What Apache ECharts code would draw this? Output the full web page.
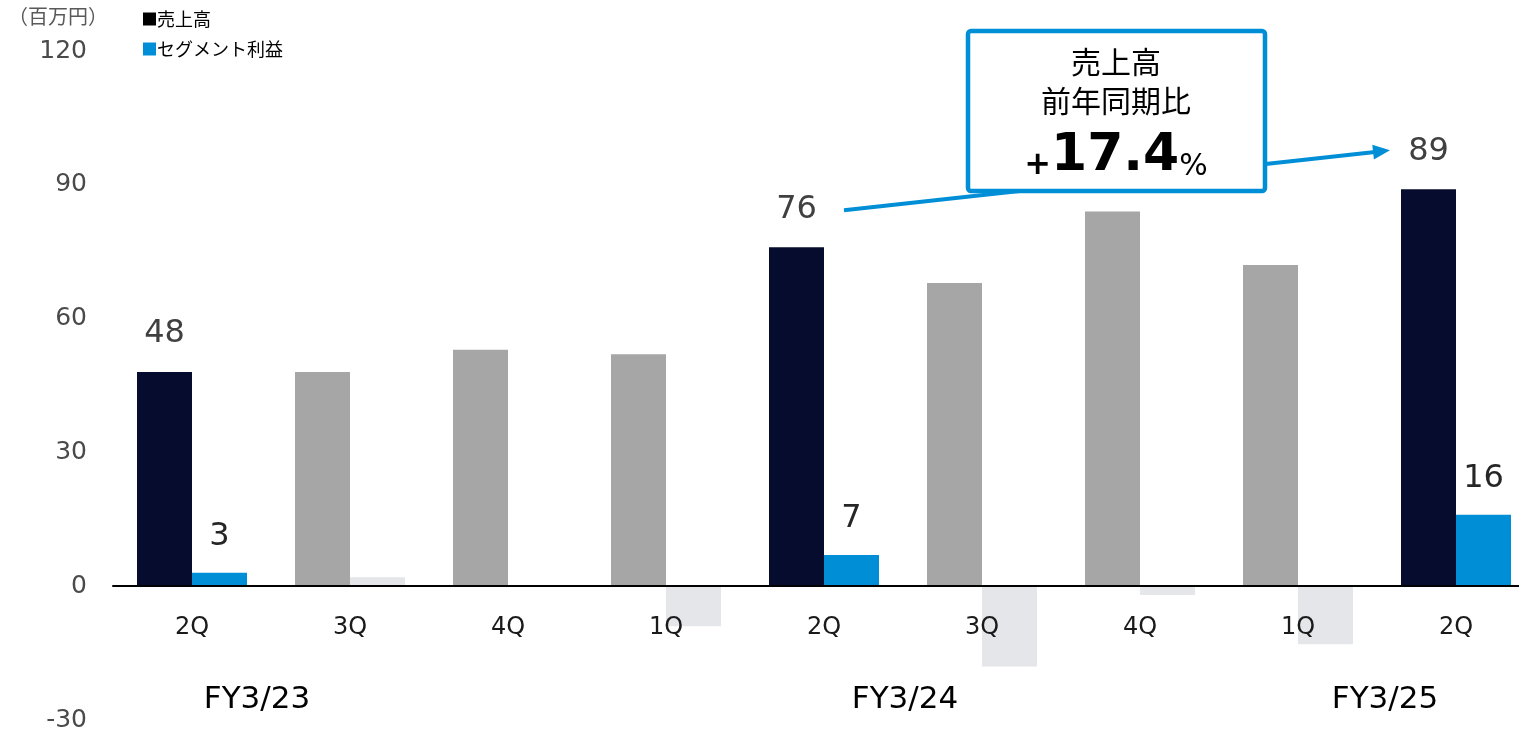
<!DOCTYPE html>
<html>
<head>
<meta charset="utf-8">
<script src="https://cdn.jsdelivr.net/npm/echarts@6/dist/echarts.min.js"></script>
<style>
html,body{margin:0;padding:0;background:#fff;}
#c{width:1519px;height:735px;}
</style>
</head>
<body>
<div id="c"></div>
<script>
const categories = ['2Q','3Q','4Q','1Q','2Q','3Q','4Q','1Q','2Q'];
const sales = [48,48,53,52,76,68,84,72,89];
const profit = [3,2,0,-9,7,-18,-2,-13,16];
const highlight = [0,4,8];
const fyLabels = ['FY3/23','FY3/24','FY3/25'];
const yMin = -30, yMax = 120, yInterval = 30;

const NUM = '"DejaVu Sans", "Noto Sans CJK JP", sans-serif';
const JP = '"Noto Sans CJK JP", sans-serif';
const NAVY = '#060c2e', GRAY = '#a6a6a6', BLUE = '#008fd6', LIGHT = '#e5e6ea';

const salesData = sales.map((v,i)=>{
  const h = highlight.includes(i);
  return {value:v, itemStyle:{color: h?NAVY:GRAY}, label:{show:h}};
});
const profitData = profit.map((v,i)=>{
  const h = highlight.includes(i);
  return {value:v, itemStyle:{color: h?BLUE:LIGHT}, label:{show:h}};
});

const chart = echarts.init(document.getElementById('c'));
const option = {
  animation:false,
  grid:{left:113, right:-16, top:51, bottom:15, containLabel:false, outerBoundsMode:'none'},
  legend:{
    orient:'vertical', left:138, top:5, itemWidth:13, itemHeight:13, itemGap:12,
    icon:'rect', selectedMode:false,
    textStyle:{fontFamily:JP, fontSize:18, color:'#000', padding:[0,0,0,-4]},
    data:['売上高','セグメント利益']
  },
  xAxis:{
    type:'category', data:categories, z:10,
    axisTick:{show:false},
    axisLine:{onZero:false, lineStyle:{color:'#000', width:2}},
    axisLabel:{fontFamily:NUM, fontSize:24, color:'#1a1a1a', margin:30}
  },
  yAxis:{
    type:'value', min:yMin, max:yMax, interval:yInterval,
    splitLine:{show:false}, axisLine:{show:false}, axisTick:{show:false},
    axisLabel:{fontFamily:NUM, fontSize:25, color:'#4a4a4a', margin:26}
  },
  series:[
    {name:'売上高', type:'bar', data:salesData, barWidth:55, barGap:'0%',
     itemStyle:{color:'#000'},
     label:{position:'top', distance:22, fontFamily:NUM, fontSize:32, color:'#404040'}},
    {name:'セグメント利益', type:'bar', data:profitData, barWidth:55, barGap:'0%',
     itemStyle:{color:BLUE},
     label:{position:'top', distance:20, fontFamily:NUM, fontSize:32, color:'#262626'}}
  ]
};
chart.setOption(option);

// move x axis (line + labels) to the zero line
const zeroY = chart.convertToPixel({yAxisIndex:0}, 0);
const bottomY = chart.convertToPixel({yAxisIndex:0}, yMin);
chart.setOption({xAxis:{offset: zeroY - bottomY}});

// annotations
const p0 = chart.convertToPixel({gridIndex:0}, [4, sales[4]]);
const p1 = chart.convertToPixel({gridIndex:0}, [8, sales[8]]);
const start = [p0[0]+20, p0[1]-37];
const tip = [p1[0]-66, p1[1]-39];
const dx = tip[0]-start[0], dy = tip[1]-start[1];
const L = Math.sqrt(dx*dx+dy*dy), ux = dx/L, uy = dy/L;
const ah = 17, aw = 7.5;
const bx = tip[0]-ah*ux, by = tip[1]-ah*uy;

chart.setOption({
  graphic:[
    {type:'text', left:8, top:6, style:{text:'（百万円）', font:'20px '+JP, fill:'#595959'}},
    {type:'line', z:50, shape:{x1:start[0], y1:start[1], x2:bx+ux*2, y2:by+uy*2},
     style:{stroke:BLUE, lineWidth:4}},
    {type:'polygon', z:50, shape:{points:[[tip[0],tip[1]],[bx-aw*uy, by+aw*ux],[bx+aw*uy, by-aw*ux]]},
     style:{fill:BLUE}},
    {type:'rect', z:60, shape:{x:968, y:31, width:297, height:160, r:3},
     style:{fill:'#fff', stroke:BLUE, lineWidth:4.5}},
    {type:'text', z:61, x:1116, y:62, style:{text:'売上高', font:'30px '+JP, fill:'#000', align:'center', verticalAlign:'middle'}},
    {type:'text', z:61, x:1116, y:101, style:{text:'前年同期比', font:'30px '+JP, fill:'#000', align:'center', verticalAlign:'middle'}},
    {type:'text', z:61, x:1116, y:156, style:{
      text:'{a|+}{b|17.4}{c|%}', align:'center', verticalAlign:'middle',
      rich:{
        a:{fontFamily:NUM, fontWeight:'bold', fontSize:32, fill:'#000', color:'#000', verticalAlign:'bottom'},
        b:{fontFamily:NUM, fontWeight:'bold', fontSize:52, fill:'#000', color:'#000', verticalAlign:'bottom'},
        c:{fontFamily:NUM, fontSize:30, fill:'#000', color:'#000', verticalAlign:'bottom'}
      }}},
    {type:'text', x:257, y:700, style:{text:fyLabels[0], font:'31px '+NUM, fill:'#000', align:'center', verticalAlign:'middle'}},
    {type:'text', x:905, y:700, style:{text:fyLabels[1], font:'31px '+NUM, fill:'#000', align:'center', verticalAlign:'middle'}},
    {type:'text', x:1385, y:700, style:{text:fyLabels[2], font:'31px '+NUM, fill:'#000', align:'center', verticalAlign:'middle'}}
  ]
});
</script>
</body>
</html>
